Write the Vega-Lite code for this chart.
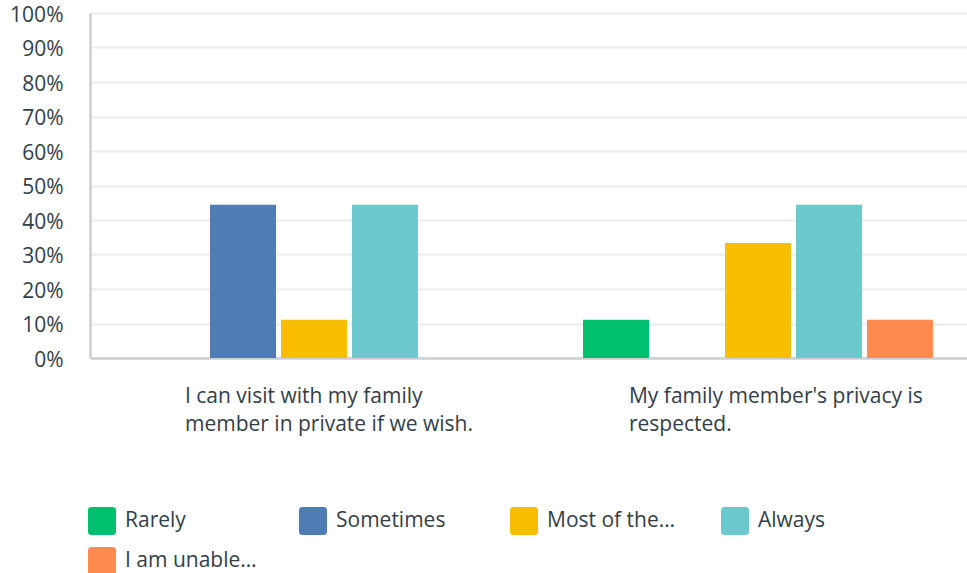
{
  "$schema": "https://vega.github.io/schema/vega-lite/v6.json",
  "width": 877,
  "height": 345,
  "padding": {"left": 90, "top": 13, "right": 0, "bottom": 215},
  "autosize": {"type": "none"},
  "background": "white",
  "config": {
    "font": "Open Sans",
    "view": {"stroke": null}
  },
  "data": {
    "values": [
      {"question": "I can visit with my family member in private if we wish.", "response": "Rarely", "pct": 0},
      {"question": "I can visit with my family member in private if we wish.", "response": "Sometimes", "pct": 44.44},
      {"question": "I can visit with my family member in private if we wish.", "response": "Most of the…", "pct": 11.11},
      {"question": "I can visit with my family member in private if we wish.", "response": "Always", "pct": 44.44},
      {"question": "I can visit with my family member in private if we wish.", "response": "I am unable…", "pct": 0},
      {"question": "My family member's privacy is respected.", "response": "Rarely", "pct": 11.11},
      {"question": "My family member's privacy is respected.", "response": "Sometimes", "pct": 0},
      {"question": "My family member's privacy is respected.", "response": "Most of the…", "pct": 33.33},
      {"question": "My family member's privacy is respected.", "response": "Always", "pct": 44.44},
      {"question": "My family member's privacy is respected.", "response": "I am unable…", "pct": 11.11}
    ]
  },
  "mark": {"type": "bar"},
  "encoding": {
    "x": {
      "field": "question",
      "type": "nominal",
      "sort": null,
      "title": null,
      "scale": {"paddingInner": 0.212, "paddingOuter": 0.0936, "align": 0.59},
      "axis": {
        "labelExpr": "datum.value == 'I can visit with my family member in private if we wish.' ? ['I can visit with my family', 'member in private if we wish.'] : ['My family member\\'s privacy is', 'respected.']",
        "labelAngle": 0,
        "labelAlign": "left",
        "labelOffset": -129,
        "labelBaseline": "top",
        "labelPadding": 27,
        "labelLineHeight": 28,
        "labelFontSize": 21,
        "labelColor": "#333e48",
        "labelLimit": 0,
        "ticks": false,
        "domainColor": "#cfcfcf",
        "domainWidth": 2.5,
        "grid": false
      }
    },
    "xOffset": {
      "field": "response",
      "type": "nominal",
      "sort": ["Rarely", "Sometimes", "Most of the…", "Always", "I am unable…"],
      "scale": {"paddingInner": 0.0704, "paddingOuter": 0}
    },
    "y": {
      "field": "pct",
      "type": "quantitative",
      "title": null,
      "scale": {"domain": [0, 100], "nice": false},
      "axis": {
        "values": [0, 10, 20, 30, 40, 50, 60, 70, 80, 90, 100],
        "labelExpr": "datum.value + '%'",
        "labelFontSize": 21,
        "labelColor": "#333e48",
        "labelPadding": 27,
        "labelOffset": 2,
        "labelFlush": false,
        "ticks": false,
        "domainColor": "#cfcfcf",
        "domainWidth": 2.5,
        "gridColor": "#ececec",
        "gridWidth": 2
      }
    },
    "color": {
      "field": "response",
      "type": "nominal",
      "sort": ["Rarely", "Sometimes", "Most of the…", "Always", "I am unable…"],
      "scale": {
        "domain": ["Rarely", "Sometimes", "Most of the…", "Always", "I am unable…"],
        "range": ["#00bf6f", "#507cb6", "#f9be00", "#6bc8cd", "#ff8b4f"]
      },
      "legend": {
        "title": null,
        "orient": "none",
        "legendX": -2,
        "legendY": 494,
        "direction": "horizontal",
        "columns": 4,
        "gridAlign": "all",
        "symbolType": "M-0.75,-1H0.75Q1,-1 1,-0.75V0.75Q1,1 0.75,1H-0.75Q-1,1 -1,0.75V-0.75Q-1,-1 -0.75,-1Z",
        "symbolSize": 784,
        "symbolStrokeWidth": 0,
        "symbolOpacity": 1,
        "labelFontSize": 21,
        "labelColor": "#333e48",
        "labelOffset": 9,
        "labelLimit": 0,
        "columnPadding": 42,
        "rowPadding": 12
      }
    }
  }
}
